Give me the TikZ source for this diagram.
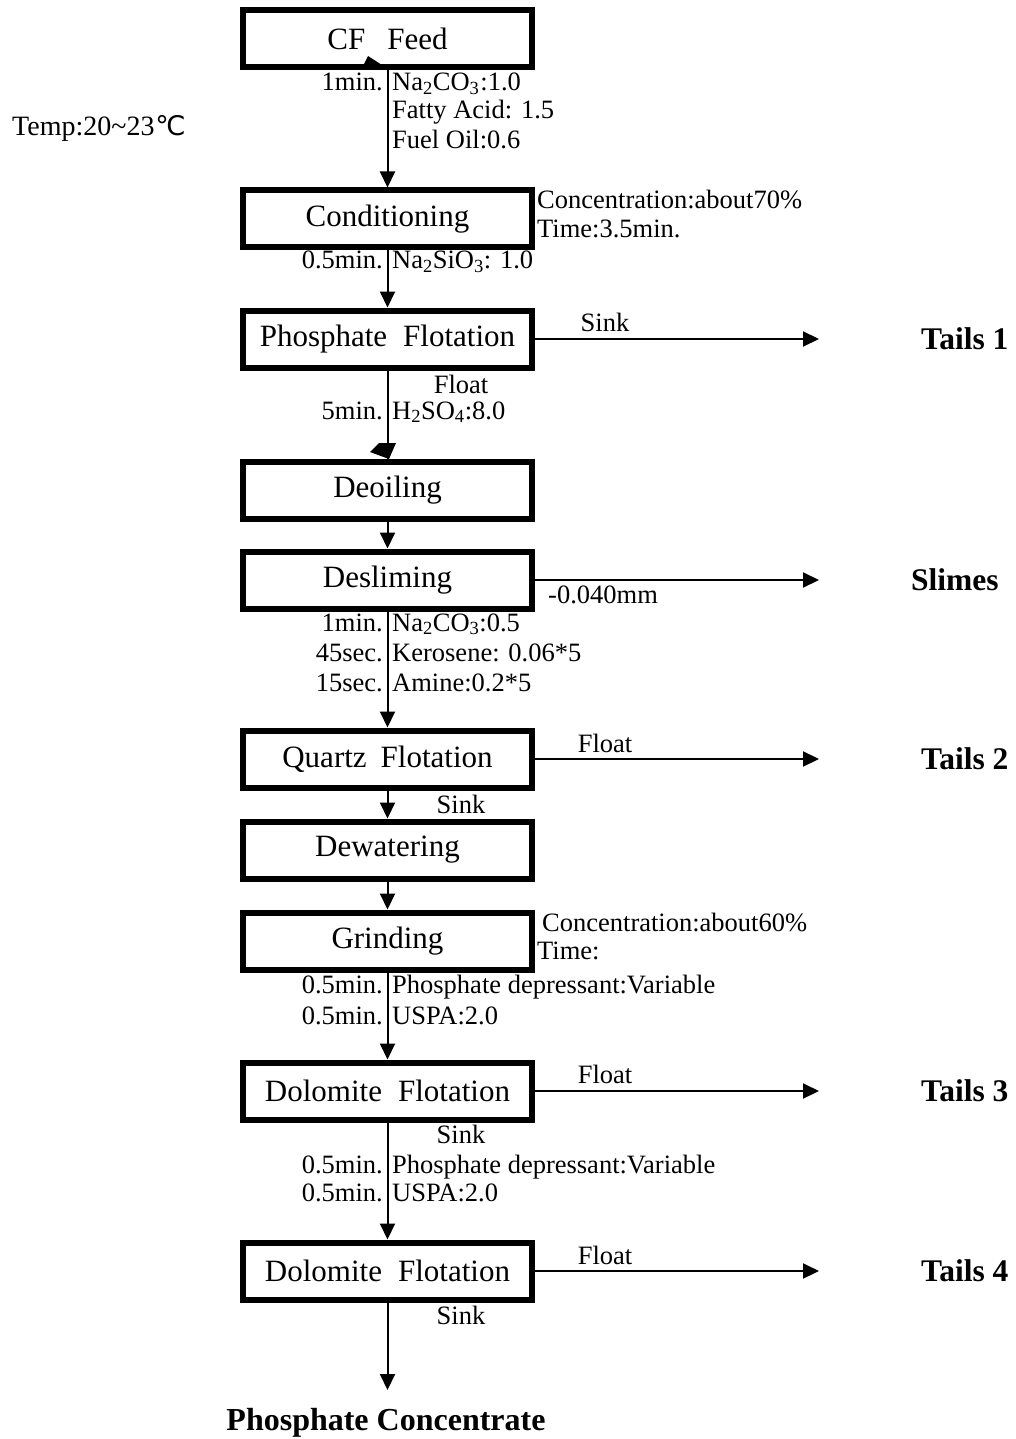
\documentclass[tikz,border=0pt]{standalone}
\usepackage{fontspec}
\setmainfont{Liberation Serif}
\newfontfamily\symfont{DejaVu Sans}
\usetikzlibrary{arrows.meta}
\begin{document}
\begin{tikzpicture}[x=1pt,y=-1pt,
  box/.style={draw, line width=6pt, minimum width=289pt, minimum height=57pt, inner sep=0pt, font=\fontsize{31}{36}\selectfont},
  flow/.style={line width=2pt, -{Triangle[length=16pt,width=15pt]}},
  plain/.style={line width=2pt},
  lab/.style={inner sep=0pt, font=\fontsize{26.5}{30}\selectfont, text height=18pt, text depth=6pt},
  llab/.style={lab, anchor=east},
  rlab/.style={lab, anchor=west},
  tail/.style={inner sep=0pt, anchor=west, font=\fontsize{31.5}{36}\selectfont\bfseries},
  endlab/.style={inner sep=0pt, font=\fontsize{32}{36}\selectfont\bfseries},
]
\useasboundingbox (0,0) rectangle (1015,1439);

% boxes
\node[box] (cf) at (387.5,39) {CF\hspace{22pt}Feed};
\node[box] (cond) at (387.5,219) {Conditioning};
\node[box] (phos) at (387.5,339) {Phosphate\hspace{16pt}Flotation};
\node[box] (deoil) at (387.5,490) {Deoiling};
\node[box] (desl) at (387.5,580) {Desliming};
\node[box] (quartz) at (387.5,759) {Quartz\hspace{14pt}Flotation};
\node[box] (dewat) at (387.5,850) {Dewatering};
\node[box] (grind) at (387.5,941) {Grinding};
\node[box] (dol1) at (387.5,1091) {Dolomite\hspace{16pt}Flotation};
\node[box] (dol2) at (387.5,1271) {Dolomite\hspace{16pt}Flotation};

% vertical connectors
\draw[flow] (cf.south) -- (cond.north);
\draw[flow] (cond.south) -- (phos.north);
\draw[plain] (phos.south) -- (deoil.north);
\draw[flow] (deoil.south) -- (desl.north);
\draw[flow] (desl.south) -- (quartz.north);
\draw[flow] (quartz.south) -- (dewat.north);
\draw[flow] (dewat.south) -- (grind.north);
\draw[flow] (grind.south) -- (dol1.north);
\draw[flow] (dol1.south) -- (dol2.north);
\coordinate (pctip) at (387.5,1390);
\draw[flow] (dol2.south) -- (pctip);

% odd arrowheads
\fill (363,66) -- (368,56) -- (382,65) -- cycle;
\fill (370,452) -- (379,443) -- (396,443) -- (389,459) -- cycle;

% horizontal outputs
\coordinate (o1) at (819,339);
\coordinate (o2) at (819,580);
\coordinate (o3) at (819,759);
\coordinate (o4) at (819,1091);
\coordinate (o5) at (819,1271);
\draw[flow] (phos.east) -- (o1);
\draw[flow] (desl.east) -- (o2);
\draw[flow] (quartz.east) -- (o3);
\draw[flow] (dol1.east) -- (o4);
\draw[flow] (dol2.east) -- (o5);

\node[tail] (t1) at (921,339) {Tails 1};
\node[tail] (sl) at (911,580) {Slimes};
\node[tail] (t2) at (921,759) {Tails 2};
\node[tail] (t3) at (921,1091) {Tails 3};
\node[tail] (t4) at (921,1271) {Tails 4};
\node[endlab] (pc) at (386,1423) {Phosphate Concentrate};

% labels
\node[rlab, font=\fontsize{28}{32}\selectfont] (temp) at (12,130) {Temp:20\textasciitilde 23{\symfont\fontsize{27}{32}\selectfont\hspace{1pt}℃}};

\node[llab] (a1) at (383,85) {1min.};
\node[rlab] (b1) at (392,85) {Na\textsubscript{2}CO\textsubscript{3}\kern1pt:1.0};
\node[rlab] (b2) at (392,113) {Fatty Acid: 1.5};
\node[rlab] (b3) at (392,143) {Fuel Oil:0.6};

\node[rlab] (c1) at (537,203) {Concentration:about70\%};
\node[rlab] (c2) at (537,231) {Time:3.5min.};

\node[llab] (a2) at (383,263) {0.5min.};
\node[rlab] (b4) at (392,263) {Na\textsubscript{2}SiO\textsubscript{3}: 1.0};

\node[lab] (sk1) at (605,325) {Sink};
\node[lab] (fl1) at (461,387) {Float};
\node[llab] (a3) at (383,413) {5min.};
\node[rlab] (b5) at (392,413) {H\textsubscript{2}SO\textsubscript{4}:8.0};

\node[rlab] (mm) at (548,597) {-0.040mm};
\node[llab] (a4) at (383,625) {1min.};
\node[rlab] (b6) at (392,625) {Na\textsubscript{2}CO\textsubscript{3}:0.5};
\node[llab] (a5) at (383,655) {45sec.};
\node[rlab] (b7) at (392,655) {Kerosene: 0.06*5};
\node[llab] (a6) at (383,685) {15sec.};
\node[rlab] (b8) at (392,685) {Amine:0.2*5};

\node[lab] (fl2) at (605,746) {Float};
\node[lab] (sk2) at (461,807) {Sink};

\node[rlab] (c3) at (542,925) {Concentration:about60\%};
\node[rlab] (c4) at (537,953) {Time:};

\node[llab] (a7) at (383,987) {0.5min.};
\node[rlab] (b9) at (392,987) {Phosphate depressant:Variable};
\node[llab] (a8) at (383,1018) {0.5min.};
\node[rlab] (b10) at (392,1018) {USPA:2.0};

\node[lab] (fl3) at (605,1077) {Float};
\node[lab] (sk3) at (461,1137) {Sink};
\node[llab] (a9) at (383,1167) {0.5min.};
\node[rlab] (b11) at (392,1167) {Phosphate depressant:Variable};
\node[llab] (a10) at (383,1195) {0.5min.};
\node[rlab] (b12) at (392,1195) {USPA:2.0};

\node[lab] (fl4) at (605,1258) {Float};
\node[lab] (sk4) at (461,1318) {Sink};
\end{tikzpicture}
\end{document}
